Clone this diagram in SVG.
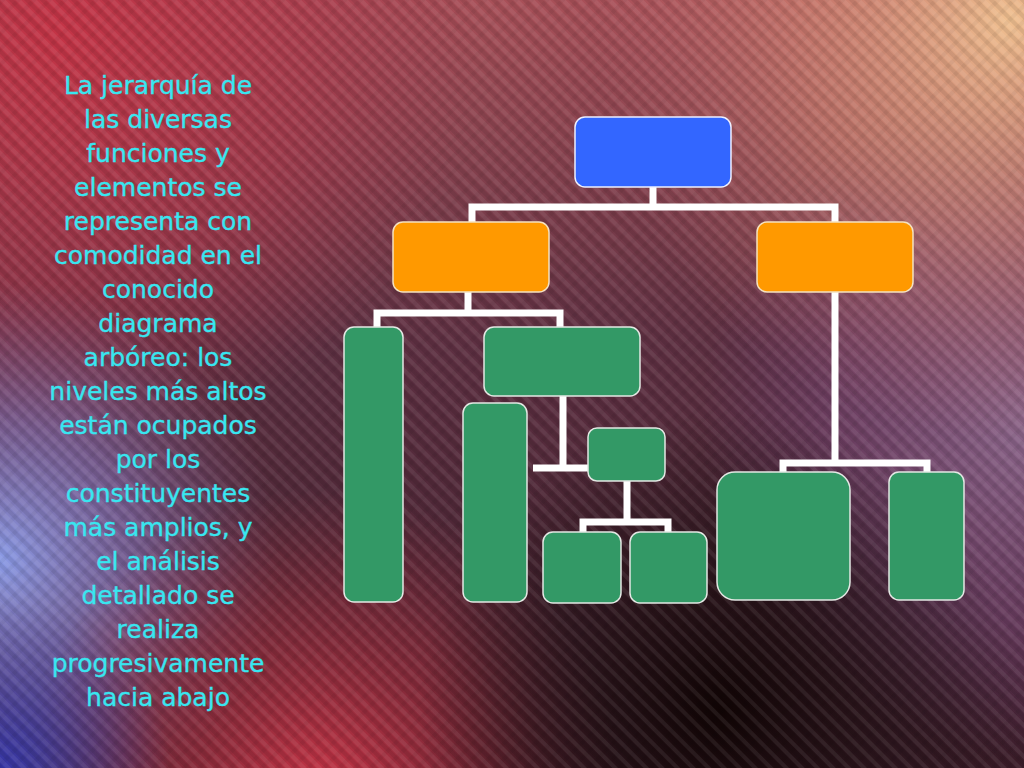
<svg xmlns="http://www.w3.org/2000/svg" width="1024" height="768" viewBox="0 0 1024 768">
<style>
.blue{fill:#3366ff;stroke:#eef0ff;stroke-width:1.5}
.orange{fill:#ff9900;stroke:#f5e2c0;stroke-width:1.5}
.green{fill:#339966;stroke:#e4e8e4;stroke-width:1.5}
.conn{fill:none;stroke:#ffffff;stroke-width:7;stroke-linejoin:miter;stroke-linecap:butt}
.txt{font-family:"DejaVu Sans",Verdana,sans-serif;font-size:25px;fill:#38e6f0;stroke:#38e6f0;stroke-width:0.35;text-anchor:middle}
</style>
<defs>
<linearGradient id="gBase" x1="0" y1="0" x2="0" y2="768" gradientUnits="userSpaceOnUse">
<stop offset="0" stop-color="#a85058"/>
<stop offset="0.45" stop-color="#5e3042"/>
<stop offset="1" stop-color="#3a1c28"/>
</linearGradient>
<radialGradient id="gRed" cx="60" cy="30" r="420" gradientUnits="userSpaceOnUse">
<stop offset="0" stop-color="#c43446" stop-opacity="1"/>
<stop offset="0.6" stop-color="#b03348" stop-opacity="0.55"/>
<stop offset="1" stop-color="#a03048" stop-opacity="0"/>
</radialGradient>
<radialGradient id="gPeach" cx="1010" cy="20" r="420" gradientUnits="userSpaceOnUse">
<stop offset="0" stop-color="#f0c090" stop-opacity="1"/>
<stop offset="0.5" stop-color="#d88c76" stop-opacity="0.6"/>
<stop offset="1" stop-color="#b86068" stop-opacity="0"/>
</radialGradient>
<radialGradient id="gBlue" cx="0" cy="560" r="280" gradientUnits="userSpaceOnUse">
<stop offset="0" stop-color="#8a9ae6" stop-opacity="1"/>
<stop offset="0.5" stop-color="#8a78c0" stop-opacity="0.6"/>
<stop offset="1" stop-color="#906090" stop-opacity="0"/>
</radialGradient>
<radialGradient id="gDBlue" cx="0" cy="768" r="170" gradientUnits="userSpaceOnUse">
<stop offset="0" stop-color="#3636a8" stop-opacity="1"/>
<stop offset="1" stop-color="#4040a0" stop-opacity="0"/>
</radialGradient>
<radialGradient id="gRedB" cx="320" cy="790" r="300" gradientUnits="userSpaceOnUse">
<stop offset="0" stop-color="#c83446" stop-opacity="1"/>
<stop offset="0.6" stop-color="#a83040" stop-opacity="0.5"/>
<stop offset="1" stop-color="#a03040" stop-opacity="0"/>
</radialGradient>
<radialGradient id="gDark" cx="720" cy="710" r="300" gradientUnits="userSpaceOnUse">
<stop offset="0" stop-color="#100404" stop-opacity="1"/>
<stop offset="0.6" stop-color="#201014" stop-opacity="0.55"/>
<stop offset="1" stop-color="#201014" stop-opacity="0"/>
</radialGradient>
<radialGradient id="gPurple" cx="1040" cy="420" r="340" gradientUnits="userSpaceOnUse">
<stop offset="0" stop-color="#8e6a8e" stop-opacity="1"/>
<stop offset="0.6" stop-color="#7a4a78" stop-opacity="0.6"/>
<stop offset="1" stop-color="#6a3a6a" stop-opacity="0"/>
</radialGradient>
<pattern id="stripes" width="11" height="11" patternUnits="userSpaceOnUse" patternTransform="rotate(-45)">
<rect x="0" y="0" width="4" height="11" fill="#ffffff" fill-opacity="0.07"/>
<rect x="6" y="0" width="4" height="11" fill="#000000" fill-opacity="0.08"/>
</pattern>
<pattern id="stripes2" width="11" height="11" patternUnits="userSpaceOnUse" patternTransform="rotate(45)">
<rect x="0" y="0" width="4" height="11" fill="#000000" fill-opacity="0.04"/>
</pattern>
</defs>
<g id="background">
<rect x="0" y="0" width="1024" height="768" fill="url(#gBase)"/>
<rect x="0" y="0" width="1024" height="768" fill="url(#gPurple)"/>
<rect x="0" y="0" width="1024" height="768" fill="url(#gRed)"/>
<rect x="0" y="0" width="1024" height="768" fill="url(#gPeach)"/>
<rect x="0" y="0" width="1024" height="768" fill="url(#gBlue)"/>
<rect x="0" y="0" width="1024" height="768" fill="url(#gRedB)"/>
<rect x="0" y="0" width="1024" height="768" fill="url(#gDBlue)"/>
<rect x="0" y="0" width="1024" height="768" fill="url(#gDark)"/>
<rect x="0" y="0" width="1024" height="768" fill="url(#stripes)"/>
<rect x="0" y="0" width="1024" height="768" fill="url(#stripes2)"/>
</g>
<g id="caption">
<text class="txt" x="158" y="94">La jerarquía de</text>
<text class="txt" x="158" y="128">las diversas</text>
<text class="txt" x="158" y="162">funciones y</text>
<text class="txt" x="158" y="196">elementos se</text>
<text class="txt" x="158" y="230">representa con</text>
<text class="txt" x="158" y="264">comodidad en el</text>
<text class="txt" x="158" y="298">conocido</text>
<text class="txt" x="158" y="332">diagrama</text>
<text class="txt" x="158" y="366">arbóreo: los</text>
<text class="txt" x="158" y="400">niveles más altos</text>
<text class="txt" x="158" y="434">están ocupados</text>
<text class="txt" x="158" y="468">por los</text>
<text class="txt" x="158" y="502">constituyentes</text>
<text class="txt" x="158" y="536">más amplios, y</text>
<text class="txt" x="158" y="570">el análisis</text>
<text class="txt" x="158" y="604">detallado se</text>
<text class="txt" x="158" y="638">realiza</text>
<text class="txt" x="158" y="672">progresivamente</text>
<text class="txt" x="158" y="706">hacia abajo</text>
</g>
<g id="connectors">
<path class="conn" d="M653 187 V207 M472 225 V207 H835 V225"/>
<path class="conn" d="M468 292 V313 M377 330 V313 H560 V330"/>
<path class="conn" d="M563 396 V468 M533 468 H590"/>
<path class="conn" d="M627 481 V522 M583 535 V522 H668 V535"/>
<path class="conn" d="M835 292 V463 M783 475 V463 H927 V475"/>
</g>
<g id="root"><rect class="blue" x="575" y="117" width="156" height="70" rx="10"/></g>
<g id="orangeLeft"><rect class="orange" x="393" y="222" width="156" height="70" rx="10"/></g>
<g id="orangeRight"><rect class="orange" x="757" y="222" width="156" height="70" rx="10"/></g>
<g id="greenTallLeft"><rect class="green" x="344" y="327" width="59" height="275" rx="10"/></g>
<g id="greenWide"><rect class="green" x="484" y="327" width="156" height="69" rx="10"/></g>
<g id="greenTall2"><rect class="green" x="463" y="403" width="64" height="199" rx="10"/></g>
<g id="greenSmall"><rect class="green" x="588" y="428" width="77" height="53" rx="9"/></g>
<g id="greenBottomLeft"><rect class="green" x="543" y="532" width="78" height="71" rx="10"/></g>
<g id="greenBottomRight"><rect class="green" x="630" y="532" width="77" height="71" rx="10"/></g>
<g id="greenBig"><rect class="green" x="717" y="472" width="133" height="128" rx="18"/></g>
<g id="greenNarrow"><rect class="green" x="889" y="472" width="75" height="128" rx="10"/></g>
</svg>
